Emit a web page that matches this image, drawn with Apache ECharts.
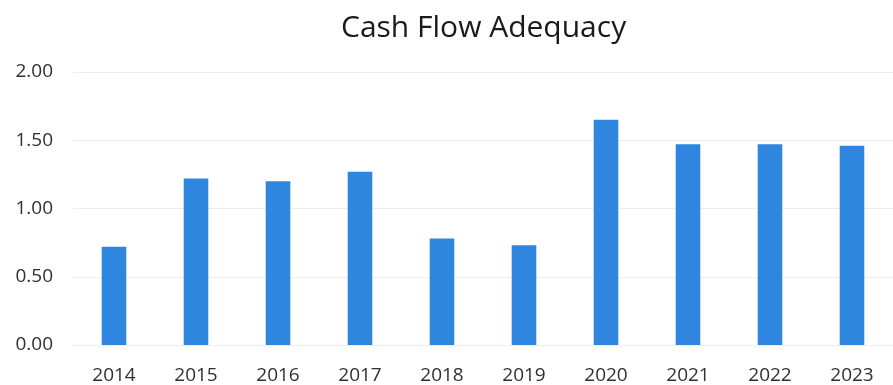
<!DOCTYPE html>
<html>
<head>
<meta charset="utf-8">
<script src="https://cdn.jsdelivr.net/npm/echarts@6/dist/echarts.min.js"></script>
<style>
  html, body { margin: 0; padding: 0; background: #fff; }
  #chart { width: 893px; height: 385px; }
</style>
</head>
<body>
<div id="chart"></div>
<script>
// Yearly cash flow adequacy ratio
const years = ['2014', '2015', '2016', '2017', '2018', '2019', '2020', '2021', '2022', '2023'];
const adequacy = [0.72, 1.22, 1.20, 1.27, 0.78, 0.73, 1.65, 1.47, 1.47, 1.46];
const yTicks = [0, 0.5, 1, 1.5, 2];

const chart = echarts.init(document.getElementById('chart'));
chart.setOption({
  animation: false,
  backgroundColor: '#ffffff',
  title: {
    text: 'Cash Flow Adequacy',
    left: 336,
    top: 8,
    textStyle: {
      fontFamily: 'Open Sans',
      fontSize: 30,
      fontWeight: 'normal',
      color: '#1a1a1a'
    }
  },
  grid: { left: 73, right: -15, top: 72, bottom: 40 },
  xAxis: {
    type: 'category',
    data: years,
    axisLine: { show: false },
    axisTick: { show: false },
    axisLabel: {
      margin: 21,
      fontFamily: 'Open Sans',
      fontSize: 19,
      color: '#303030'
    }
  },
  yAxis: {
    type: 'value',
    min: yTicks[0],
    max: yTicks[yTicks.length - 1],
    interval: 0.5,
    axisLine: { show: false },
    axisTick: { show: false },
    splitLine: { lineStyle: { color: '#ededed', width: 1 } },
    axisLabel: {
      margin: 20,
      fontFamily: 'Open Sans',
      fontSize: 19,
      color: '#303030',
      formatter: v => v.toFixed(2)
    }
  },
  series: [{
    type: 'bar',
    data: adequacy,
    barWidth: '30%',
    itemStyle: { color: '#2e86de' }
  }]
});
</script>
</body>
</html>
